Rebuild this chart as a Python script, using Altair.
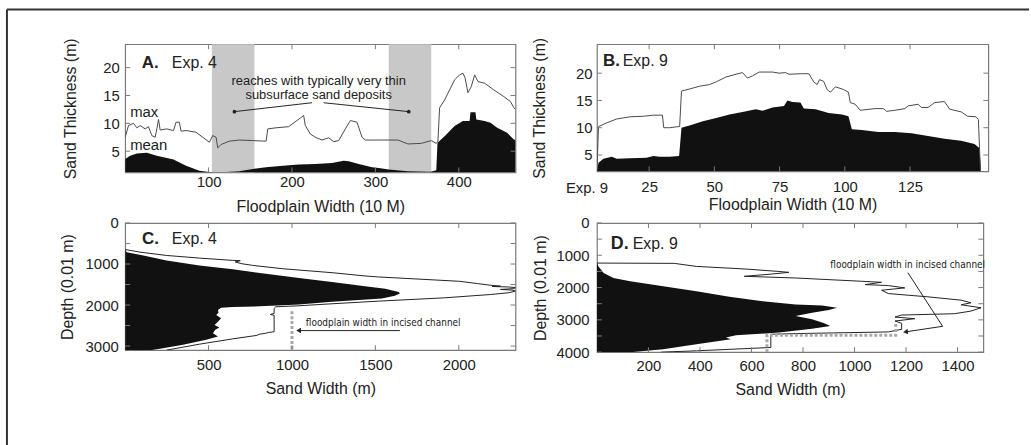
import altair as alt
import pandas as pd

FONT = "Liberation Sans"
NARROW = "Liberation Sans Narrow, DejaVu Sans Condensed, Liberation Sans"
INK = "#222222"
FRAME = "#7a7a7a"
LINE = "#4a4a4a"
FILL = "#111111"
BAND = "#c8c8c8"
DOT = "#a9a9a9"

# ---------------- Panel A : Exp. 4, floodplain width (10 m) vs sand thickness (m)
a_max = [(0, 7.5), (4, 9.6), (10, 10), (14, 9.2), (18, 9.6), (24, 9), (28, 9.4), (32, 7.8), (36, 7.5),
         (38, 9), (40, 10.7), (42, 8.8), (50, 9), (58, 8.7), (61, 10.2), (65, 10.2), (67, 8.6), (73, 8.7),
         (85, 8.4), (93, 7.5), (101, 6.6), (105, 7.8), (109, 7.5), (111, 5.6), (115, 6.2), (125, 6.8),
         (137, 7), (153, 6.9), (169, 6.8), (171, 9), (181, 9.2), (196, 9.4), (206, 10.5), (214, 11.4),
         (216, 9.6), (222, 8.1), (228, 7.5), (236, 7), (244, 7.4), (250, 6.7), (256, 6.9), (264, 9),
         (270, 10.5), (278, 10.2), (284, 7.5), (288, 7), (308, 7), (327, 7), (339, 6.3), (355, 6.4),
         (367, 6.9), (373, 6.4), (375, 6.8), (377, 12.8), (383, 14.2), (395, 17.8), (401, 18.7),
         (405, 19), (407.5, 18.2), (411, 15.5), (415, 16.6), (419, 18.7), (423, 17.5), (431, 17.2),
         (442, 16), (454, 14.8), (462, 13.9), (466, 12.8), (468, 12.5)]
a_mean = [(0, 3.6), (6, 4.2), (14, 4.6), (26, 4.7), (38, 4.2), (58, 3.5), (73, 2.4), (89, 1.5),
          (101, 1.25), (121, 1.25), (137, 1.4), (153, 1.8), (169, 2.1), (189, 2.4), (208, 2.6),
          (228, 2.7), (248, 2.9), (262, 3.3), (268, 3.2), (280, 2.7), (296, 2.1), (304, 2.0),
          (316, 1.7), (339, 1.4), (366, 1.3), (373, 1.6), (374.5, 6.5), (383, 7.7), (395, 9.5),
          (405, 10.4), (413, 10.4), (414, 12), (420, 12), (421, 10.7), (431, 10.4), (438, 10.1),
          (446, 9.2), (458, 8.3), (466, 7.1), (468, 7.0)]
a_band_start = [104, 316]
a_band_end = [155, 367]
a_xticks = [100, 200, 300, 400]
a_yticks = [5, 10, 15, 20]

# ---------------- Panel B : Exp. 9
b_max = [(5, 2.0), (5.6, 10.2), (8.8, 10.9), (12.6, 11.6), (17.7, 12), (22.8, 12.1), (26.6, 12.3),
         (30.1, 12.3), (30.6, 10), (32.9, 10), (36.1, 10.2), (36.7, 10.2), (37.4, 16.7), (40.5, 17.1),
         (44.3, 17.6), (48.1, 17.9), (50.7, 18.4), (54.5, 19.3), (58.3, 19.8), (60.8, 20.1),
         (62.7, 19.1), (64.6, 19.5), (67.2, 20.2), (72.3, 20.2), (74.8, 20), (77.3, 20.1),
         (78.6, 19.8), (83.7, 19.9), (86.2, 19.9), (88.1, 18.4), (89.4, 17.9), (90.3, 18.8),
         (91.9, 18.5), (93.2, 17), (94.5, 16.5), (96.4, 17.5), (99.5, 17), (101.4, 16.5), (102.1, 14.6),
         (104, 14.3), (105.9, 13.2), (111.6, 13.5), (114.8, 13.5), (116, 13), (119.2, 13.2), (123, 13.5),
         (124.3, 14), (128.1, 14.3), (129.4, 13.7), (131.9, 13.7), (134.4, 14.6), (138.2, 14.8),
         (140.2, 13.4), (144.6, 12.9), (147.1, 12.1), (150.3, 12), (151.2, 11.5), (152, 2.0)]
b_mean = [(5, 2.0), (5.6, 3.6), (7.5, 4.3), (10.7, 4.7), (12.6, 4.3), (17.7, 4.4), (24, 4.5), (26.6, 4.8),
          (29.1, 4.7), (32.9, 4.7), (36.5, 4.8), (37.4, 10), (40.5, 10.4), (45.6, 11.2), (50.7, 11.8),
          (55.8, 12.4), (60.8, 12.9), (65.9, 13.4), (68.5, 13.1), (72.3, 13.7), (76.7, 14), (78, 15),
          (79.9, 14.7), (83, 14.6), (84.3, 13.5), (88.8, 13.4), (93.8, 12.7), (98.9, 12.4), (101.4, 12.1),
          (102.7, 9.7), (106.5, 9.6), (112.9, 9.2), (119.2, 9.2), (125.6, 9), (131.9, 8.5), (138.2, 8),
          (144.6, 7.6), (149.7, 7), (151.6, 6.3), (152.2, 2.0)]
b_xticks = [25, 50, 75, 100, 125]
b_yticks = [5, 10, 15, 20]

# ---------------- Panel C : Exp. 4, sand width (m) vs depth (0.01 m)
c_outline = [(646, 0), (710, 89), (791, 248), (855, 446), (912, 645), (918, 690), (950, 660), (993, 700),
             (1033, 764), (1114, 942), (1211, 1240), (1291, 1438), (1315, 1518), (1421, 2004),
             (1477, 2113), (1518, 2192), (1540, 2250), (1548, 2200), (1560, 2300), (1575, 2340),
             (1600, 2330), (1620, 2250), (1635, 2320), (1660, 2340), (1700, 2300), (1743, 2192),
             (1824, 1915), (1905, 1518), (1969, 1240), (2018, 1042), (2042, 903), (2082, 893),
             (2203, 893), (2230, 870), (2250, 893), (2650, 893), (2670, 860), (2690, 840), (2712, 804),
             (2740, 790), (2825, 645), (2954, 446), (3100, 248)]
c_mean = [(660, 0), (710, 10), (790, 109), (912, 248), (1033, 446), (1130, 645), (1235, 843),
          (1340, 1042), (1437, 1240), (1541, 1438), (1600, 1560), (1638, 1597), (1680, 1640),
          (1719, 1647), (1750, 1630), (1775, 1617), (1840, 1538), (1921, 1240), (1985, 1042),
          (2026, 843), (2050, 645), (2066, 575), (2122, 556), (2180, 560), (2243, 546), (2324, 575),
          (2405, 556), (2486, 536), (2550, 565), (2600, 540), (2688, 526), (2768, 556), (2849, 486),
          (2970, 347), (3067, 208), (3100, 150)]
c_channel = [(2150, 1000), (3100, 1000)]
c_xticks = [500, 1000, 1500, 2000]
c_ylabels = [0, 1000, 2000, 3000]
c_yticks = [0, 500, 1000, 1500, 2000, 2500, 3000]

# ---------------- Panel D : Exp. 9
d_outline = [(1241, 0), (1250, 300), (1344, 386), (1426, 578), (1497, 700), (1528, 745), (1579, 681),
             (1651, 572), (1703, 771), (1805, 1028), (1836, 1105), (1908, 1041), (1938, 1131),
             (2010, 1195), (2082, 1105), (2185, 1131), (2287, 1285), (2390, 1414), (2472, 1452),
             (2533, 1414), (2626, 1491), (2728, 1452), (2810, 1388), (2851, 1183), (2913, 1157),
             (2964, 1234), (3036, 1157), (3108, 1183), (3292, 1183), (3374, 1131), (3426, 771),
             (3446, 675), (3856, 675), (3959, 386), (4000, 250)]
d_mean = [(1241, 0), (1344, 6), (1549, 26), (1703, 64), (1805, 129), (1959, 257), (2113, 386),
          (2287, 514), (2421, 643), (2523, 771), (2554, 874), (2626, 932), (2697, 900), (2779, 835),
          (2882, 771), (2985, 835), (3100, 880), (3190, 906), (3272, 835), (3395, 707), (3477, 540),
          (3549, 501), (3600, 520), (3754, 386), (3908, 257), (4000, 129)]
d_channel = [(4000, 660), (3480, 660), (3480, 1160), (3080, 1160)]
d_xticks = [200, 400, 600, 800, 1000, 1200, 1400]
d_ylabels = [0, 1000, 2000, 3000, 4000]
d_yticks = [0, 500, 1000, 1500, 2000, 2500, 3000, 3500, 4000]


def pts(pairs, a, b):
    df = pd.DataFrame(pairs, columns=[a, b])
    df["i"] = range(len(df))
    return df


def xaxis(values, title, lp, ty):
    return alt.Axis(values=values, title=title, labelPadding=lp, titleY=ty, titleBaseline="top",
                    ticks=False, tickSize=0, domain=False, grid=False, labelFontSize=15,
                    titleFontSize=16, labelColor=INK, titleColor=INK, titleFontWeight="normal",
                    labelFlush=False, labelOverlap=False, format="d")


def yaxis(values, title, lp, tx):
    return alt.Axis(values=values, title=title, labelPadding=lp, titleX=tx,
                    ticks=False, tickSize=0, domain=False, grid=False, labelFontSize=15,
                    titleFontSize=16, labelColor=INK, titleColor=INK, titleFontWeight="normal",
                    labelFlush=False, labelOverlap=False, format="d")


class Panel:
    """Shared x/y encodings (same scale and same axis in every layer)."""

    def __init__(self, xs, ys, xax, yax):
        self.xs, self.ys, self.xax, self.yax = xs, ys, xax, yax

    def X(self, f):
        return alt.X(f, scale=self.xs, axis=self.xax)

    def Y(self, f):
        return alt.Y(f, scale=self.ys, axis=self.yax)

    def ticks(self, xvals, yvals, W, H, L=5):
        tk = dict(color=FRAME, strokeWidth=1)
        dx = pd.DataFrame({"x": xvals})
        dy = pd.DataFrame({"y": yvals})
        return [
            alt.Chart(dx).mark_rule(**tk).encode(x=self.X("x:Q"), y=alt.value(H), y2=alt.value(H - L)),
            alt.Chart(dx).mark_rule(**tk).encode(x=self.X("x:Q"), y=alt.value(0), y2=alt.value(L)),
            alt.Chart(dy).mark_rule(**tk).encode(y=self.Y("y:Q"), x=alt.value(0), x2=alt.value(L)),
            alt.Chart(dy).mark_rule(**tk).encode(y=self.Y("y:Q"), x=alt.value(W), x2=alt.value(W - L)),
        ]

    def text(self, df, **kw):
        return alt.Chart(df).mark_text(**kw).encode(x=self.X("x:Q"), y=self.Y("y:Q"), text="t:N")


# ================= Panel A
AW, AH = 393, 129
pa = Panel(alt.Scale(domain=[0, 468], nice=False, zero=False),
           alt.Scale(domain=[1.2, 24.2], nice=False, zero=False),
           xaxis(a_xticks, "Floodplain Width (10 M)", 2, 26),
           yaxis(a_yticks, "Sand Thickness (m)", 6, -47))

a_bands = alt.Chart(pd.DataFrame({"x": a_band_start, "e": a_band_end})).mark_rect(color=BAND).encode(
    x=pa.X("x:Q"), x2="e:Q", y=alt.value(0), y2=alt.value(AH))
a_area = alt.Chart(pts(a_mean, "x", "y")).mark_area(color=FILL, clip=True).encode(
    x=pa.X("x:Q"), y=pa.Y("y:Q"), y2=alt.datum(1.2))
a_line = alt.Chart(pts(a_max, "x", "y")).mark_line(color=LINE, strokeWidth=1, clip=True).encode(
    x=pa.X("x:Q"), y=pa.Y("y:Q"), order="i:Q")
a_lead = alt.Chart(pd.DataFrame({"x": [224, 238], "y": [13.7, 13.7], "x2": [131, 340], "y2": [12.1, 12.1]})
                   ).mark_rule(color=INK, strokeWidth=1).encode(x=pa.X("x:Q"), y=pa.Y("y:Q"), x2="x2:Q", y2="y2:Q")
a_dots = alt.Chart(pd.DataFrame({"x": [131, 340], "y": [12.1, 12.1]})).mark_point(
    filled=True, color=INK, size=14, opacity=1).encode(x=pa.X("x:Q"), y=pa.Y("y:Q"))
a_note = pa.text(pd.DataFrame({"x": [232, 232], "y": [16.9, 14.4],
                               "t": ["reaches with typically very thin", "subsurface sand deposits"]}),
                 align="center", baseline="alphabetic", fontSize=13, color=INK, font=FONT)
a_lbl = pa.text(pd.DataFrame({"x": [6, 6], "y": [11.2, 5.3], "t": ["max", "mean"]}),
                align="left", baseline="alphabetic", fontSize=15, color=INK, font=FONT)
a_tag = pa.text(pd.DataFrame({"x": [20], "y": [20], "t": ["A."]}),
                align="left", baseline="alphabetic", fontSize=17, fontWeight="bold", color=INK, font=FONT)
a_exp = pa.text(pd.DataFrame({"x": [56], "y": [20], "t": ["Exp. 4"]}),
                align="left", baseline="alphabetic", fontSize=16, color=INK, font=FONT)
frame_dummy = pd.DataFrame({"k": [0]})
fig_top = alt.Chart(frame_dummy).mark_rule(color="#333333", strokeWidth=2).encode(
    x=alt.value(-119), x2=alt.value(910), y=alt.value(-35), y2=alt.value(-35))
fig_left = alt.Chart(frame_dummy).mark_rule(color="#333333", strokeWidth=2).encode(
    x=alt.value(-119), x2=alt.value(-119), y=alt.value(-35), y2=alt.value(405))

panelA = alt.layer(a_bands, a_area, a_line, a_lead, a_dots, a_note, a_lbl, a_tag, a_exp,
                   *pa.ticks(a_xticks, a_yticks, AW, AH), fig_top, fig_left).properties(width=AW, height=AH)

# ================= Panel B
BW, BH = 394, 128
pb = Panel(alt.Scale(domain=[5, 155], nice=False, zero=False),
           alt.Scale(domain=[2.0, 25.3], nice=False, zero=False),
           xaxis(b_xticks, "Floodplain Width (10 M)", 8, 25),
           yaxis(b_yticks, "Sand Thickness (m)", 5, -50))
b_area = alt.Chart(pts(b_mean, "x", "y")).mark_area(color=FILL, clip=True).encode(
    x=pb.X("x:Q"), y=pb.Y("y:Q"), y2=alt.datum(2.0))
b_line = alt.Chart(pts(b_max, "x", "y")).mark_line(color=LINE, strokeWidth=1, clip=True).encode(
    x=pb.X("x:Q"), y=pb.Y("y:Q"), order="i:Q")
b_tag = pb.text(pd.DataFrame({"x": [7.3], "y": [21.3], "t": ["B."]}),
                align="left", baseline="alphabetic", fontSize=17, fontWeight="bold", color=INK, font=FONT)
b_exp = pb.text(pd.DataFrame({"x": [14.9], "y": [21.3], "t": ["Exp. 9"]}),
                align="left", baseline="alphabetic", fontSize=16, color=INK, font=FONT)
b_first = alt.Chart(pd.DataFrame({"t": ["Exp. 9"]})).mark_text(
    align="center", baseline="top", fontSize=15, color=INK, font=FONT).encode(
    x=alt.value(-10), y=alt.value(BH + 10), text="t:N")
panelB = alt.layer(b_area, b_line, b_tag, b_exp, b_first,
                   *pb.ticks(b_xticks, b_yticks, BW, BH)).properties(width=BW, height=BH)

# ================= Panel C
CW, CH = 393, 128
pc = Panel(alt.Scale(domain=[0, 2340], nice=False, zero=False),
           alt.Scale(domain=[0, 3100], nice=False, zero=False, reverse=True),
           xaxis(c_xticks, "Sand Width (m)", 7, 31),
           yaxis(c_ylabels, "Depth (0.01 m)", 7, -50))
c_area = alt.Chart(pts(c_mean, "y", "x")).mark_area(color=FILL, clip=True, orient="horizontal").encode(
    x=pc.X("x:Q"), y=pc.Y("y:Q"), x2=alt.datum(0))
c_line = alt.Chart(pts(c_outline, "y", "x")).mark_line(color=INK, strokeWidth=1, clip=True).encode(
    x=pc.X("x:Q"), y=pc.Y("y:Q"), order="i:Q")
c_chan = alt.Chart(pts(c_channel, "y", "x")).mark_line(color=DOT, strokeWidth=3, strokeDash=[3, 2], clip=True).encode(
    x=pc.X("x:Q"), y=pc.Y("y:Q"), order="i:Q")
c_arrow = alt.Chart(pd.DataFrame({"x": [1647], "x2": [1030], "y": [2623]})).mark_rule(color=INK, strokeWidth=1).encode(
    x=pc.X("x:Q"), x2="x2:Q", y=pc.Y("y:Q"))
c_head = alt.Chart(pd.DataFrame({"x": [1040], "y": [2623]})).mark_point(
    shape="triangle-left", filled=True, color=INK, size=30, opacity=1).encode(x=pc.X("x:Q"), y=pc.Y("y:Q"))
c_note = pc.text(pd.DataFrame({"x": [1083], "y": [2518], "t": ["floodplain width in incised channel"]}),
                 align="left", baseline="alphabetic", fontSize=10, color=INK, font=NARROW)
c_tag = pc.text(pd.DataFrame({"x": [101], "y": [508], "t": ["C."]}),
                align="left", baseline="alphabetic", fontSize=17, fontWeight="bold", color=INK, font=FONT)
c_exp = pc.text(pd.DataFrame({"x": [280], "y": [508], "t": ["Exp. 4"]}),
                align="left", baseline="alphabetic", fontSize=16, color=INK, font=FONT)
panelC = alt.layer(c_line, c_area, c_chan, c_arrow, c_head, c_note, c_tag, c_exp,
                   *pc.ticks(c_xticks, c_yticks, CW, CH)).properties(width=CW, height=CH)

# ================= Panel D
DW, DH = 389, 130
pd_ = Panel(alt.Scale(domain=[0, 1500], nice=False, zero=False),
            alt.Scale(domain=[0, 4000], nice=False, zero=False, reverse=True),
            xaxis(d_xticks, "Sand Width (m)", 6, 30),
            yaxis(d_ylabels, "Depth (0.01 m)", 8, -49))
d_area = alt.Chart(pts(d_mean, "y", "x")).mark_area(color=FILL, clip=True, orient="horizontal").encode(
    x=pd_.X("x:Q"), y=pd_.Y("y:Q"), x2=alt.datum(0))
d_line = alt.Chart(pts(d_outline, "y", "x")).mark_line(color=INK, strokeWidth=1, clip=True).encode(
    x=pd_.X("x:Q"), y=pd_.Y("y:Q"), order="i:Q")
d_chan = alt.Chart(pts(d_channel, "y", "x")).mark_line(color=DOT, strokeWidth=3, strokeDash=[3, 2], clip=True).encode(
    x=pd_.X("x:Q"), y=pd_.Y("y:Q"), order="i:Q")
d_lead = alt.Chart(pd.DataFrame({"x": [1207, 1342], "y": [1538, 3200], "x2": [1342, 1200], "y2": [3200, 3370]})
                   ).mark_rule(color=INK, strokeWidth=1).encode(x=pd_.X("x:Q"), y=pd_.Y("y:Q"), x2="x2:Q", y2="y2:Q")
d_head = alt.Chart(pd.DataFrame({"x": [1198], "y": [3372]})).mark_point(
    shape="triangle-left", filled=True, color=INK, size=30, opacity=1, angle=352).encode(
    x=pd_.X("x:Q"), y=pd_.Y("y:Q"))
d_note = pd_.text(pd.DataFrame({"x": [906], "y": [1385], "t": ["floodplain width in incised channel"]}),
                  align="left", baseline="alphabetic", fontSize=10, color=INK, font=NARROW)
d_tag = pd_.text(pd.DataFrame({"x": [54], "y": [800], "t": ["D."]}),
                 align="left", baseline="alphabetic", fontSize=18, fontWeight="bold", color=INK, font=FONT)
d_exp = pd_.text(pd.DataFrame({"x": [139], "y": [800], "t": ["Exp. 9"]}),
                 align="left", baseline="alphabetic", fontSize=16, color=INK, font=FONT)
panelD = alt.layer(d_line, d_area, d_chan, d_lead, d_head, d_note, d_tag, d_exp,
                   *pd_.ticks(d_xticks, d_yticks, DW, DH)).properties(width=DW, height=DH)

chart = alt.concat(panelA, panelB, panelC, panelD, columns=2,
                   spacing=alt.RowColnumber(row=51, column=82), bounds="flush",
                   padding={"left": 5, "top": 6, "right": 0, "bottom": 0}
                   ).configure(font=FONT, background="white"
                   ).configure_view(stroke=FRAME, strokeWidth=1.2)

chart.save("out.html", embed_options={"renderer": "svg", "actions": False})
